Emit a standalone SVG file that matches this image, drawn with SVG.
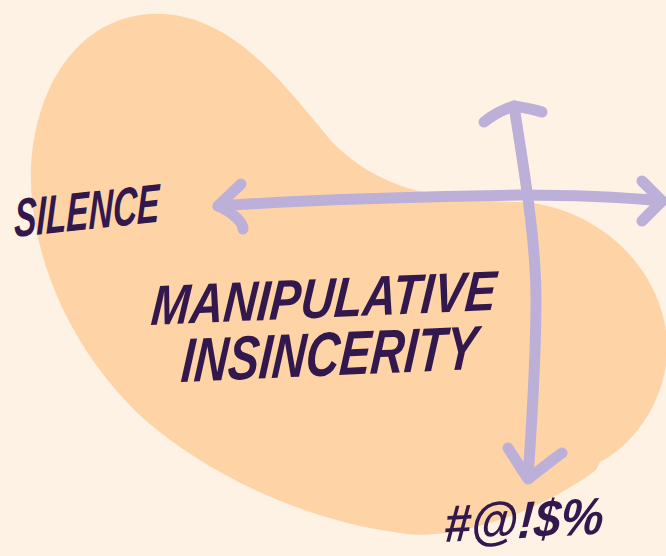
<svg xmlns="http://www.w3.org/2000/svg" width="666" height="556" viewBox="0 0 666 556">
<style>
.lbl{font-family:"Liberation Sans","DejaVu Sans",sans-serif;font-weight:bold;font-style:italic;fill:#32184c}
.ax{fill:none;stroke:#bdb0d8;stroke-width:11;stroke-linecap:round;stroke-linejoin:round}
</style>
<rect width="666" height="556" fill="#fef2e5"/>
<path id="blob" fill="#fed4a7" d="M150,14 C230,10 282,82 332,142 C382,192 440,200 520,202 C592,206 650,258 664,320 C678,382 642,440 600,462 L596,470 C570,490 530,510 500,520 C462,532 425,538 400,533 C300,520 205,472 145,420 C82,362 40,282 32,200 C24,120 60,20 150,14 Z"/>
<g id="connectors">
<path class="ax" d="M218,206 C300,200 400,197 520,195 C580,195 630,198 662,201"/>
<path class="ax" d="M241,184 L218,206 C232,212 243,222 243,229"/>
<path class="ax" d="M642,181 L662,201 L642,221"/>
<path class="ax" d="M514,106 C524,170 536,240 536,300 C536,360 532,420 528,478"/>
<path class="ax" d="M484,122 C494,114 504,109 514,106 C526,108 536,110 542,112"/>
<path class="ax" d="M508,448 C516,460 522,470 528,479 C540,470 552,460 562,453"/>
</g>
<g id="silence"><text class="lbl" font-size="54" textLength="146" lengthAdjust="spacingAndGlyphs" transform="translate(14,237) rotate(-6) skewX(-7)">SILENCE</text></g>
<g id="manipulative"><text class="lbl" font-size="56" textLength="345" lengthAdjust="spacingAndGlyphs" transform="translate(150,325) rotate(-2.5) skewX(-7)">MANIPULATIVE</text></g>
<g id="insincerity"><text class="lbl" font-size="62" textLength="296" lengthAdjust="spacingAndGlyphs" transform="translate(180,382) rotate(-2.5) skewX(-7)">INSINCERITY</text></g>
<g id="swear"><text class="lbl" font-size="52" textLength="160" lengthAdjust="spacingAndGlyphs" transform="translate(443,542) rotate(-3) skewX(-7)">#@!$%</text></g>
</svg>
